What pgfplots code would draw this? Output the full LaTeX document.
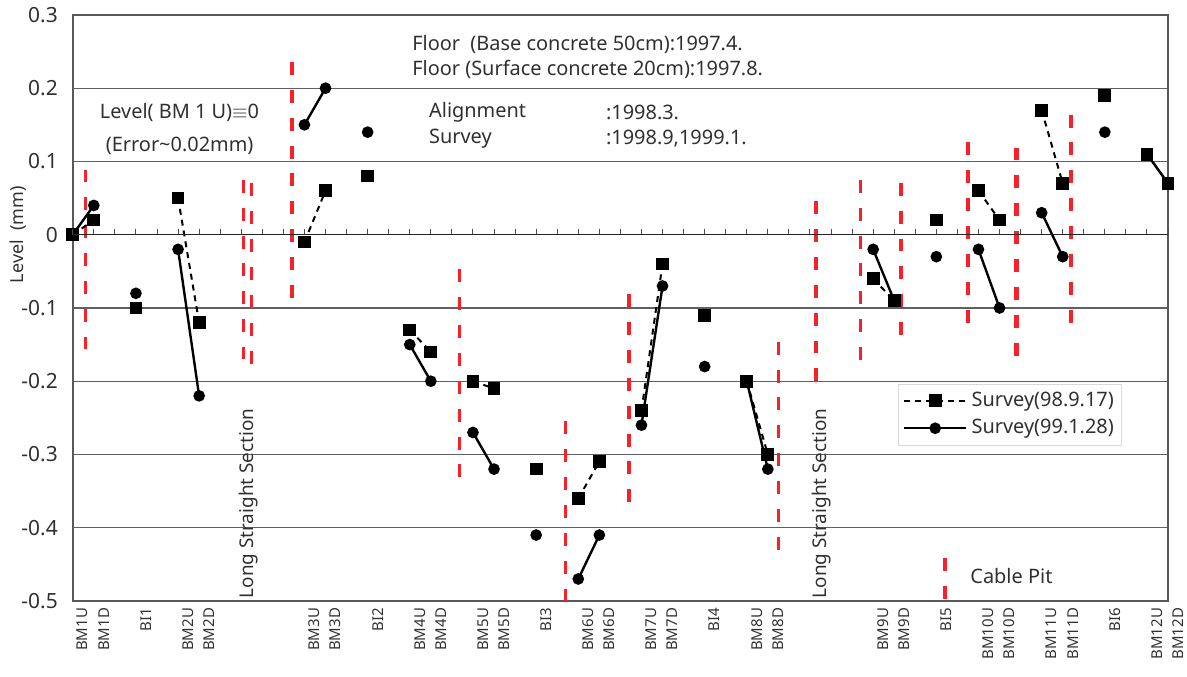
\documentclass[border=0pt]{standalone}
\usepackage{pgfplots}
\pgfplotsset{compat=1.18}
\usepackage{fontspec}
\setmainfont{Noto Sans}
\definecolor{txt}{HTML}{303030}
\definecolor{pitred}{HTML}{F5222B}
\begin{document}
\begin{tikzpicture}
\path[use as bounding box] (-36.5pt,-38pt) rectangle (559pt,301.5pt);
\begin{axis}[
 at={(0,0)}, anchor=south west,
 scale only axis, width=549.5pt, height=294pt,
 xmin=0, xmax=52, ymin=-0.5, ymax=0.3,
 ytick={-0.5,-0.4,-0.3,-0.2,-0.1,0,0.1,0.2,0.3},
 yticklabels={-0.5,-0.4,-0.3,-0.2,-0.1,0,0.1,0.2,0.3},
 yticklabel style={font=\fontsize{10.5}{12}\selectfont, text=txt, xshift=-4pt},
 ylabel={Level\ \ (mm)},
 ylabel style={at={(axis description cs:-0.05,0.625)}, anchor=center, rotate=0, font=\fontsize{9}{11}\selectfont, text=txt},
 ymajorgrids, grid style={gray!75!black, line width=0.6pt},
 xtick={0,1,3,5,6,11,12,14,16,17,19,20,22,24,25,27,28,30,32,33,38,39,41,43,44,46,47,49,51,52},
 xticklabels={BM1U,BM1D,BI1,BM2U,BM2D,BM3U,BM3D,BI2,BM4U,BM4D,BM5U,BM5D,BI3,BM6U,BM6D,BM7U,BM7D,BI4,BM8U,BM8D,BM9U,BM9D,BI5,BM10U,BM10D,BM11U,BM11D,BI6,BM12U,BM12D},
 xticklabel style={rotate=90, anchor=east, font=\fontsize{7.5}{8}\selectfont, text=txt, yshift=-5pt},
 major tick length=0pt,
 unbounded coords=jump,
 axis line style={gray!70!black, line width=0.8pt},
 legend style={at={(axis cs:39.2,-0.2035)}, anchor=north west, draw=gray!30, fill=white,
   font=\fontsize{10}{12}\selectfont, text=txt, inner sep=2pt, row sep=1pt},
 legend cell align=left,
 legend image code/.code={\draw[mark repeat=2,mark phase=2,#1] plot coordinates {(0cm,0cm) (0.55cm,0cm) (1.1cm,0cm)};},
]
% red dashed lines (cable pits etc.)
\pgfplotsset{pit/.style={forget plot, pitred, line width=1.8pt, dash pattern=on 6.5pt off 7.5pt}}
\addplot[pit] coordinates {(0.61,0.089) (0.61,-0.156)};
\addplot[pit] coordinates {(8.1,0.075) (8.1,-0.17)};
\addplot[pit] coordinates {(8.48,0.07) (8.48,-0.18)};
\addplot[pit] coordinates {(10.41,0.236) (10.41,-0.10)};
\addplot[pit] coordinates {(18.37,-0.047) (18.37,-0.343)};
\addplot[pit] coordinates {(23.4,-0.255) (23.4,-0.5)};
\addplot[pit] coordinates {(26.4,-0.081) (26.4,-0.373)};
\addplot[pit] coordinates {(33.5,-0.146) (33.5,-0.441)};
\addplot[pit] coordinates {(35.3,0.046) (35.3,-0.20)};
\addplot[pit] coordinates {(37.4,0.075) (37.4,-0.183)};
\addplot[pit] coordinates {(39.33,0.071) (39.33,-0.146)};
\addplot[pit] coordinates {(42.5,0.126) (42.5,-0.131)};
\addplot[pit, line width=2.6pt] coordinates {(44.8,0.119) (44.8,-0.179)};
\addplot[pit] coordinates {(47.4,0.164) (47.4,-0.131)};
\addplot[pit] coordinates {(41.4,-0.441) (41.4,-0.5)};
% Survey 98.9.17
\addplot[black, line width=1pt, dash pattern=on 3pt off 2.5pt, mark=square*, mark size=2.7pt, mark options={solid}] coordinates {
(0,0) (1,0.02) (2,nan) (3,-0.10) (4,nan) (5,0.05) (6,-0.12) (7,nan) (11,-0.01) (12,0.06) (13,nan)
(14,0.08) (15,nan) (16,-0.13) (17,-0.16) (18,nan) (19,-0.20) (20,-0.21) (21,nan) (22,-0.32) (23,nan)
(24,-0.36) (25,-0.31) (26,nan) (27,-0.24) (28,-0.04) (29,nan) (30,-0.11) (31,nan) (32,-0.20) (33,-0.30) (34,nan)
(38,-0.06) (39,-0.09) (40,nan) (41,0.02) (42,nan) (43,0.06) (44,0.02) (45,nan) (46,0.17) (47,0.07) (48,nan)
(49,0.19) (50,nan) (51,0.11) (52,0.07)};
\addlegendentry{Survey(98.9.17)}
% Survey 99.1.28
\addplot[black, line width=1.2pt, mark=*, mark size=2.3pt] coordinates {
(0,0) (1,0.04) (2,nan) (3,-0.08) (4,nan) (5,-0.02) (6,-0.22) (7,nan) (11,0.15) (12,0.20) (13,nan)
(14,0.14) (15,nan) (16,-0.15) (17,-0.20) (18,nan) (19,-0.27) (20,-0.32) (21,nan) (22,-0.41) (23,nan)
(24,-0.47) (25,-0.41) (26,nan) (27,-0.26) (28,-0.07) (29,nan) (30,-0.18) (31,nan) (32,-0.20) (33,-0.32) (34,nan)
(38,-0.02) (39,-0.09) (40,nan) (41,-0.03) (42,nan) (43,-0.02) (44,-0.10) (45,nan) (46,0.03) (47,-0.03) (48,nan)
(49,0.14) (50,nan) (51,0.11) (52,0.07)};
\addlegendentry{Survey(99.1.28)}
% annotations
\begin{scope}[every node/.style={text=txt, font=\fontsize{10}{12}\selectfont, inner sep=0pt}]
\node[anchor=west] at (axis cs:16.1,0.259) {Floor\ \ (Base concrete 50cm):1997.4.};
\node[anchor=west] at (axis cs:16.1,0.225) {Floor (Surface concrete 20cm):1997.8.};
\node[anchor=west] at (axis cs:16.9,0.167) {Alignment};
\node[anchor=west] at (axis cs:25.3,0.167) {:1998.3.};
\node[anchor=west] at (axis cs:16.9,0.131) {Survey};
\node[anchor=west] at (axis cs:25.3,0.131) {:1998.9,1999.1.};
\node[anchor=west] at (axis cs:1.27,0.167) {Level( BM 1 U)$\equiv$0};
\node[anchor=west] at (axis cs:1.55,0.121) {(Error\textasciitilde 0.02mm)};
\node[anchor=west, rotate=90, font=\fontsize{9.5}{11}\selectfont] at (axis cs:8.34,-0.497) {Long Straight Section};
\node[anchor=west, rotate=90, font=\fontsize{9.5}{11}\selectfont] at (axis cs:35.56,-0.497) {Long Straight Section};
\node[anchor=west] at (axis cs:42.6,-0.466) {Cable Pit};
\end{scope}
\end{axis}
\begin{axis}[
 at={(0,0)}, anchor=south west,
 scale only axis, width=549.5pt, height=294pt,
 xmin=0, xmax=52, ymin=-0.5, ymax=0.3,
 axis x line=middle, axis y line=none,
 x axis line style={-, black!85, line width=0.8pt},
 xtick={0,...,52}, xticklabels={}, ytick=\empty,
 tick align=inside, major tick length=3pt,
 xtick style={black!70, line width=0.5pt},
]
\end{axis}
\end{tikzpicture}
\end{document}
